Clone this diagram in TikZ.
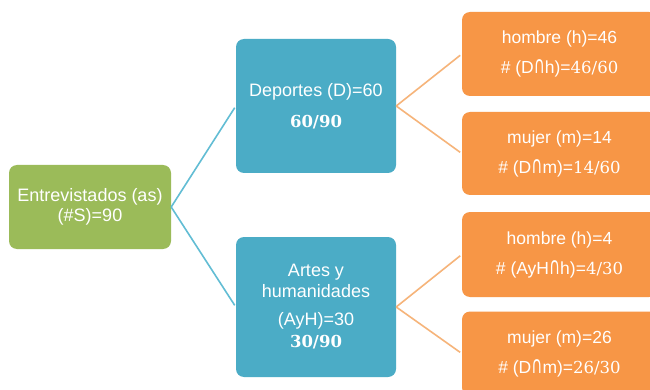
\documentclass[tikz,border=0pt]{standalone}
\usepackage{fontspec}
\usepackage{graphicx}
\setmainfont{Liberation Sans}
\newfontfamily\sharefont{DejaVu Serif}
\newfontfamily\capfont{DejaVu Sans}

\definecolor{rootgreen}{HTML}{9BBB59}
\definecolor{areablue}{HTML}{4BACC6}
\definecolor{genderorange}{HTML}{F79646}
\definecolor{linkblue}{HTML}{62BDD4}
\definecolor{linkorange}{HTML}{F6B47A}

% fractions are set in a serif face
\newcommand\boldshare[1]{{\sharefont\bfseries\fontsize{16.5}{20}\selectfont #1}}
\newcommand\plainshare[1]{{\sharefont\fontsize{16.5}{20}\selectfont #1}}
% intersection sign stretched to capital height
\newcommand\intersec{\scalebox{0.95}[1.5]{\capfont\fontsize{16}{20}\selectfont ∩}}

\tikzset{
  box/.style={rounded corners=8pt, text=white, align=center, inner sep=0pt},
  rootbox/.style={box, fill=rootgreen, minimum width=162pt, minimum height=84pt,
    font=\fontsize{18}{19.5}\selectfont},
  areabox/.style={box, fill=areablue, minimum width=160pt},
  genderbox/.style={box, fill=genderorange, minimum width=195pt, minimum height=84pt,
    font=\fontsize{17.5}{30}\selectfont},
  bluelink/.style={draw=linkblue, line width=1.6pt, shorten >=2pt},
  orangelink/.style={draw=linkorange, line width=1.6pt, shorten >=2pt},
}

\begin{document}
\begin{tikzpicture}[x=1pt, y=-1pt]
  \useasboundingbox (0,0) rectangle (650,390);
  \clip (0,0) rectangle (650,390);
  \fill[white] (0,0) rectangle (650,390);

  % root
  \node[rootbox] (S) at (90,207) {Entrevistados (as)\\(\#S)=90};

  % study areas
  \node[areabox, minimum height=134pt, font=\fontsize{18}{31}\selectfont]
    (D) at (316,106) {Deportes (D)=60\\\boldshare{60/90}};
  \node[areabox, minimum height=140pt, font=\fontsize{18}{21}\selectfont]
    (A) at (316,307) {Artes y\\humanidades\\[7pt](AyH)=30\\[1pt]\boldshare{30/90}};

  % gender split
  \node[genderbox] (Dh) at (559.5,54)  {hombre (h)=46\\\# (D\intersec h)=\plainshare{46/60}};
  \node[genderbox, minimum height=83pt] (Dm) at (559.5,153.5) {mujer (m)=14\\\# (D\intersec m)=\plainshare{14/60}};
  \node[genderbox, minimum height=85pt] (Ah) at (559.5,254.5) {hombre (h)=4\\\# (AyH\intersec h)=\plainshare{4/30}};
  \node[genderbox] (Am) at (559.5,353.5) {mujer (m)=26\\\# (D\intersec m)=\plainshare{26/30}};

  % connectors
  \draw[bluelink] (S.east) -- (D.west);
  \draw[bluelink] (S.east) -- (A.west);
  \draw[orangelink] (D.east) -- (Dh.west);
  \draw[orangelink] (D.east) -- (Dm.west);
  \draw[orangelink] (A.east) -- (Ah.west);
  \draw[orangelink] (A.east) -- (Am.west);
\end{tikzpicture}
\end{document}
